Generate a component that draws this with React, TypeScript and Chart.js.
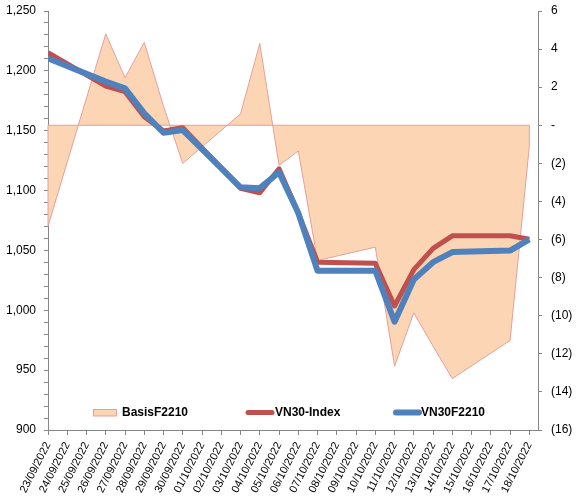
import React, { useEffect, useRef } from 'react';
import { Chart, registerables } from 'chart.js';

Chart.register(...registerables);

// ---- Data ----
const dateLabels = [
  '23/09/2022', '24/09/2022', '25/09/2022', '26/09/2022', '27/09/2022', '28/09/2022',
  '29/09/2022', '30/09/2022', '01/10/2022', '02/10/2022', '03/10/2022', '04/10/2022',
  '05/10/2022', '06/10/2022', '07/10/2022', '08/10/2022', '09/10/2022', '10/10/2022',
  '11/10/2022', '12/10/2022', '13/10/2022', '14/10/2022', '15/10/2022', '16/10/2022',
  '17/10/2022', '18/10/2022',
];

const tradingDates = [
  '23/09/2022', '26/09/2022', '27/09/2022', '28/09/2022', '29/09/2022', '30/09/2022',
  '03/10/2022', '04/10/2022', '05/10/2022', '06/10/2022', '07/10/2022', '10/10/2022',
  '11/10/2022', '12/10/2022', '13/10/2022', '14/10/2022', '17/10/2022', '18/10/2022',
];

const basisF2210 = [
  -5.3, 4.8, 2.5, 4.35, 1.0, -2.0,
  0.6, 4.3, -2.1, -1.35, -7.1, -6.4,
  -12.65, -9.85, -11.6, -13.3, -11.3, -1.1,
];

const vn30Index = [
  1215.2, 1187.3, 1182.6, 1161.7, 1149.7, 1152.5,
  1101.9, 1098.2, 1118.2, 1081.2, 1040.2, 1039.2,
  1003.6, 1034.0, 1051.7, 1062.2, 1062.2, 1059.3,
];

const vn30F2210 = [
  1210.5, 1191.0, 1185.4, 1164.5, 1148.3, 1150.6,
  1102.7, 1102.0, 1115.3, 1081.2, 1033.0, 1033.0,
  990.5, 1025.8, 1040.2, 1048.6, 1049.9, 1059.3,
];

const leftMajorTicks = [900, 950, 1000, 1050, 1100, 1150, 1200, 1250];
const rightTicks = [-16, -14, -12, -10, -8, -6, -4, -2, 0, 2, 4, 6];

// ---- Styles ----
const AREA_FILL = '#FCD5B5';
const AREA_BORDER = '#E3A09B';
const RED = '#C0504D';
const BLUE = '#4F81BD';
const AXIS = '#868686';
const FONT = 'Liberation Sans, Arial, sans-serif';

const fmtRight = (v: number) => (v === 0 ? '-' : v < 0 ? `(${-v})` : `${v}`);

const areaOutlinePlugin = {
  id: 'areaOutline',
  afterDatasetDraw(chart: any, args: any) {
    if (args.index !== 0) return;
    const pts = args.meta.data;
    if (!pts.length) return;
    const y0 = chart.scales.y1.getPixelForValue(0);
    const first = pts[0];
    const last = pts[pts.length - 1];
    const ctx = chart.ctx;
    ctx.save();
    ctx.strokeStyle = AREA_BORDER;
    ctx.lineWidth = 1;
    ctx.beginPath();
    ctx.moveTo(first.x, first.y);
    ctx.lineTo(first.x, y0);
    ctx.lineTo(last.x, y0);
    ctx.lineTo(last.x, last.y);
    ctx.stroke();
    ctx.restore();
  },
};

const legendPlugin = {
  id: 'insideLegend',
  afterDraw(chart: any) {
    const ctx = chart.ctx;
    const { left, bottom } = chart.chartArea;
    const cy = bottom - 17.5;
    const ds = chart.data.datasets;
    ctx.save();
    ctx.font = `bold 12px ${FONT}`;
    ctx.fillStyle = '#000';
    ctx.textBaseline = 'middle';
    ctx.textAlign = 'left';
    // item 1: area box
    ctx.fillStyle = AREA_FILL;
    ctx.fillRect(left + 45.5, cy - 3, 23, 6.5);
    ctx.strokeStyle = AREA_BORDER;
    ctx.lineWidth = 1;
    ctx.strokeRect(left + 45.5, cy - 3, 23, 6.5);
    ctx.fillStyle = '#000';
    ctx.fillText(ds[0].label, left + 74, cy);
    // item 2: red line
    ctx.lineCap = 'round';
    ctx.strokeStyle = RED;
    ctx.lineWidth = 5;
    ctx.beginPath();
    ctx.moveTo(left + 200, cy);
    ctx.lineTo(left + 224, cy);
    ctx.stroke();
    ctx.fillText(ds[1].label, left + 227, cy);
    // item 3: blue line
    ctx.strokeStyle = BLUE;
    ctx.lineWidth = 6;
    ctx.beginPath();
    ctx.moveTo(left + 348, cy);
    ctx.lineTo(left + 371, cy);
    ctx.stroke();
    ctx.fillText(ds[2].label, left + 373, cy);
    ctx.restore();
  },
};

export default function App() {
  const ref = useRef<HTMLCanvasElement>(null);

  useEffect(() => {
    const canvas = ref.current;
    if (!canvas) return;
    const xOf = (d: string) => dateLabels.indexOf(d);
    const chart = new Chart(canvas, {
      type: 'line',
      data: {
        datasets: [
          {
            label: 'BasisF2210',
            data: tradingDates.map((d, i) => ({ x: xOf(d), y: basisF2210[i] })),
            yAxisID: 'y1',
            fill: 'origin',
            backgroundColor: AREA_FILL,
            borderColor: AREA_BORDER,
            borderWidth: 1,
            pointRadius: 0,
            tension: 0,
            order: 3,
          },
          {
            label: 'VN30-Index',
            data: tradingDates.map((d, i) => ({ x: xOf(d), y: vn30Index[i] })),
            yAxisID: 'y',
            fill: false,
            borderColor: RED,
            backgroundColor: RED,
            borderWidth: 5,
            borderJoinStyle: 'round',
            pointRadius: 0,
            tension: 0,
            order: 2,
          },
          {
            label: 'VN30F2210',
            data: tradingDates.map((d, i) => ({ x: xOf(d), y: vn30F2210[i] })),
            yAxisID: 'y',
            fill: false,
            borderColor: BLUE,
            backgroundColor: BLUE,
            borderWidth: 6,
            borderJoinStyle: 'round',
            pointRadius: 0,
            tension: 0,
            order: 1,
          },
        ],
      } as any,
      options: {
        animation: false,
        responsive: false,
        maintainAspectRatio: false,
        layout: { padding: { top: 11, left: 0, right: 0, bottom: 0 } },
        plugins: { legend: { display: false }, tooltip: { enabled: false } },
        scales: {
          x: {
            type: 'linear',
            min: 0,
            max: 25.45,
            afterBuildTicks: (s: any) => {
              s.ticks = dateLabels.map((_, i) => ({ value: i }));
            },
            afterFit: (s: any) => {
              s.height = 74;
            },
            grid: { drawOnChartArea: false, drawTicks: true, tickLength: 5, color: AXIS },
            border: { display: true, color: AXIS },
            ticks: {
              autoSkip: false,
              minRotation: 63,
              maxRotation: 63,
              padding: 5,
              color: '#000',
              font: { family: FONT, size: 11 },
              callback: (v: any) => dateLabels[Math.round(v)] ?? '',
            },
          },
          y: {
            type: 'linear',
            position: 'left',
            min: 900,
            max: 1250,
            afterBuildTicks: (s: any) => {
              const t = [];
              for (let v = leftMajorTicks[0]; v <= leftMajorTicks[leftMajorTicks.length - 1]; v += 10) t.push({ value: v });
              s.ticks = t;
            },
            afterFit: (s: any) => {
              s.width = 48;
              s.paddingTop = 0;
              s.paddingBottom = 0;
            },
            grid: { drawOnChartArea: false, drawTicks: true, tickLength: 4, color: AXIS },
            border: { display: true, color: AXIS },
            ticks: {
              autoSkip: false,
              padding: 8,
              color: '#000',
              font: { family: FONT, size: 12 },
              callback: (v: any) => (leftMajorTicks.includes(Math.round(v)) ? Math.round(v).toLocaleString('en-US') : ''),
            },
          },
          y1: {
            type: 'linear',
            position: 'right',
            min: -16,
            max: 6,
            afterBuildTicks: (s: any) => {
              s.ticks = rightTicks.map((v) => ({ value: v }));
            },
            afterFit: (s: any) => {
              s.width = 41;
              s.paddingTop = 0;
              s.paddingBottom = 0;
            },
            grid: { drawOnChartArea: false, drawTicks: true, tickLength: 4, color: AXIS },
            border: { display: true, color: AXIS },
            ticks: {
              autoSkip: false,
              padding: 9,
              color: '#000',
              font: { family: FONT, size: 12 },
              callback: (v: any) => fmtRight(Math.round(v)),
            },
          },
        },
      } as any,
      plugins: [areaOutlinePlugin, legendPlugin],
    });
    return () => chart.destroy();
  }, []);

  return (
    <div style={{ position: 'absolute', left: 0, top: 0, width: 579, height: 504, background: '#fff' }}>
      <canvas ref={ref} width={579} height={504} style={{ width: 579, height: 504, display: 'block' }} />
    </div>
  );
}
